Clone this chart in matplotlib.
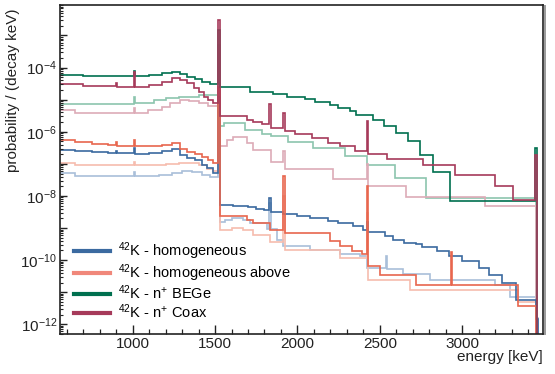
import numpy as np
import matplotlib
matplotlib.use("Agg")
import matplotlib.pyplot as plt
from matplotlib.lines import Line2D
from matplotlib.ticker import LogLocator, FuncFormatter, MultipleLocator, NullFormatter

plt.rcParams['font.family'] = ['Liberation Sans', 'DejaVu Sans']
plt.rcParams['mathtext.fontset'] = 'custom'
plt.rcParams['mathtext.rm'] = 'Liberation Sans'
plt.rcParams['mathtext.it'] = 'Liberation Sans:italic'
plt.rcParams['mathtext.default'] = 'regular'

XMAX = 3500

# left bin edges (keV) and contents (probability / (decay keV))
hom_e = [560, 650, 750, 850, 896, 904, 1008, 1016, 1100, 1180, 1240, 1290, 1330, 1380,
         1420, 1450, 1490, 1520, 1530, 1610, 1700, 1750, 1800, 1830, 1838, 1914, 1995,
         2076, 2187, 2248, 2339, 2400, 2420, 2428, 2530, 2582, 2646, 2722, 2759, 2848,
         2921, 3001, 3103, 3164, 3245, 3325, 3450, 3460]
hom_v = [2.8e-7, 2.5e-7, 2.3e-7, 2.2e-7, 2.6e-7, 2.15e-7, 3.2e-7, 2.1e-7, 2.25e-7, 2.5e-7,
         2.9e-7, 1.85e-7, 1.5e-7, 1.3e-7, 9.5e-8, 7.2e-8, 5.3e-8, 1.2e-5, 5.4e-9, 5.0e-9,
         4.6e-9, 3.9e-9, 3.6e-9, 8.7e-9, 3.1e-9, 2.8e-9, 2.4e-9, 2.05e-9, 1.6e-9, 1.45e-9,
         1.12e-9, 8.4e-10, 1.5e-9, 7.5e-10, 5.5e-10, 4.3e-10, 3.5e-10, 3.2e-10, 2.6e-10,
         1.87e-10, 1.35e-10, 9.1e-11, 5.6e-11, 3.5e-11, 1.9e-11, 5.7e-12, 1.5e-12, 1e-16]

hab_e = [560, 650, 750, 850, 896, 904, 1008, 1016, 1100, 1180, 1240, 1290, 1330, 1380,
         1420, 1460, 1490, 1520, 1530, 1692, 1732, 1834, 1914, 1922, 2198, 2258, 2329,
         2390, 2420, 2428, 2501, 2723, 2932, 2940, 3338, 3450]
hab_v = [5.5e-7, 4.8e-7, 4.3e-7, 4.0e-7, 4.8e-7, 3.7e-7, 5.6e-7, 3.6e-7, 3.7e-7, 4.0e-7,
         4.6e-7, 3.0e-7, 2.4e-7, 2.0e-7, 1.6e-7, 1.3e-7, 1.05e-7, 2.5e-5, 2.3e-9, 1.73e-9,
         1.45e-9, 8.9e-10, 4.3e-8, 6.9e-10, 4.0e-10, 2.7e-10, 1.87e-10, 1.6e-10, 2.0e-8,
         6.6e-11, 3.5e-11, 1.7e-11, 1.8e-10, 1.7e-11, 3.6e-12, 1e-16]

bege_e = [560, 700, 1008, 1016, 1100, 1180, 1240, 1290, 1330, 1380, 1420, 1470, 1520, 1530,
          1712, 1851, 1937, 2046, 2107, 2198, 2246, 2319, 2355, 2456, 2525, 2598, 2669,
          2743, 2824, 2925, 3442, 3452]
bege_v = [6.0e-5, 5.4e-5, 7.8e-5, 5.4e-5, 6.0e-5, 6.8e-5, 7.5e-5, 6.3e-5, 5.0e-5, 4.3e-5,
          3.6e-5, 3.0e-5, 1.5e-3, 2.4e-5, 1.78e-5, 1.47e-5, 1.24e-5, 1.02e-5, 8.4e-6, 6.6e-6,
          5.6e-6, 4.4e-6, 3.45e-6, 2.3e-6, 1.5e-6, 9.3e-7, 5.1e-7, 1.95e-7, 5.6e-8, 6.8e-9,
          3.2e-7, 1e-16]

coax_e = [560, 700, 896, 904, 1008, 1016, 1100, 1180, 1240, 1290, 1330, 1370, 1400, 1430,
          1460, 1490, 1520, 1530, 1692, 1732, 1783, 1830, 1838, 1914, 1922, 1985, 2086,
          2187, 2258, 2349, 2420, 2428, 2545, 2764, 2956, 3199, 3310, 3442, 3452]
coax_v = [3.1e-5, 2.6e-5, 3.3e-5, 2.5e-5, 7.5e-5, 2.5e-5, 2.8e-5, 3.6e-5, 4.6e-5, 4.2e-5,
          3.2e-5, 2.3e-5, 1.7e-5, 1.25e-5, 1.0e-5, 8e-6, 3.0e-3, 3.1e-6, 2.3e-6, 2.0e-6,
          1.8e-6, 7.1e-6, 1.33e-6, 3.8e-6, 1.04e-6, 8.3e-7, 6.5e-7, 4.6e-7, 3.6e-7, 2.6e-7,
          2.2e-6, 2.0e-7, 1.44e-7, 8.9e-8, 4.6e-8, 2.1e-8, 7.6e-9, 1.9e-7, 1e-16]

# lighter companions (no legend entry)
bege2_e = [560, 1008, 1016, 1128, 1200, 1280, 1400, 1520, 1530, 1552, 1681, 1783, 1837,
           1944, 2096, 2288, 2420, 2592, 2780, 3450]
bege2_v = [7.1e-6, 1.24e-5, 8.1e-6, 9.5e-6, 1.1e-5, 1.24e-5, 1.36e-5, 5e-4, 1.5e-6, 1.9e-6,
           1.17e-6, 8.3e-7, 7.2e-7, 4.8e-7, 3.2e-7, 1.8e-7, 9.5e-8, 3.6e-8, 8.7e-9, 1e-16]

coax2_e = [560, 650, 1008, 1016, 1094, 1176, 1226, 1287, 1340, 1400, 1460, 1520, 1530, 1570,
           1611, 1692, 1732, 1837, 1914, 1922, 2217, 2420, 2428, 2661, 3138, 3450]
coax2_v = [4.8e-6, 3.8e-6, 5.6e-6, 3.8e-6, 4.6e-6, 6.0e-6, 8.1e-6, 1.0e-5, 8.8e-6, 8.0e-6,
           6.5e-6, 4e-4, 3.7e-7, 5.4e-7, 6.9e-7, 4.6e-7, 2.8e-7, 1.12e-7, 2.6e-7, 6.9e-8,
           3.4e-8, 1.0e-7, 2.0e-8, 9.3e-9, 4.8e-9, 1e-16]

hom2_e = [560, 650, 1008, 1016, 1160, 1240, 1300, 1360, 1420, 1470, 1520, 1530, 1560, 1601,
          1672, 1712, 1813, 1830, 1838, 1874, 1914, 2076, 2258, 2380, 2420, 2537, 2545,
          2640, 2807, 3199, 3290, 3450, 3462]
hom2_v = [5.2e-8, 4.2e-8, 5.5e-8, 4.1e-8, 4.4e-8, 5.2e-8, 5.9e-8, 5.4e-8, 4.5e-8, 3.9e-8,
          4e-6, 1.5e-9, 1.8e-9, 2.05e-9, 1.8e-9, 1.45e-9, 9.5e-10, 6e-9, 9.3e-10, 4.3e-10,
          2.7e-10, 2.1e-10, 1.5e-10, 1.3e-10, 5.6e-11, 1.3e-10, 5.2e-11, 3.6e-11, 2.4e-11,
          1.7e-11, 7.2e-12, 1.6e-12, 1e-16]

hab2_e = [560, 650, 1008, 1016, 1200, 1280, 1400, 1450, 1490, 1520, 1530, 1601, 1672, 1732,
          1834, 1914, 1922, 2258, 2420, 2428, 2686, 3339, 3450]
hab2_v = [1.05e-7, 8.9e-8, 1.12e-7, 8.9e-8, 1.0e-7, 1.1e-7, 9.0e-8, 7.0e-8, 6.0e-8, 8e-6,
          8.9e-10, 1.0e-9, 8.9e-10, 6.2e-10, 3.8e-10, 1e-8, 2.0e-10, 1.15e-10, 3e-9, 2.4e-11,
          1.18e-11, 5.0e-12, 1e-16]

labels = [r'$^{42}$K - homogeneous', r'$^{42}$K - homogeneous above',
          r'$^{42}$K - n$^{+}$ BEGe', r'$^{42}$K - n$^{+}$ Coax']
legend_colors = ['#3b6aa0', '#f0877a', '#00704f', '#a63a5a']

fig = plt.figure(figsize=(5.55, 3.74), dpi=100)
ax = fig.add_axes([0.108, 0.107, 0.870, 0.880])

light = [(hom2_e, hom2_v, '#a9bfd9'), (hab2_e, hab2_v, '#f6bcae'),
         (bege2_e, bege2_v, '#8cc5ae'), (coax2_e, coax2_v, '#ddabb7')]
dark = [(hom_e, hom_v, '#3b6aa0'), (hab_e, hab_v, '#e8664e'),
        (bege_e, bege_v, '#00704f'), (coax_e, coax_v, '#a63a5a')]

for e, v, c in light + dark:
    ax.stairs(v, e + [XMAX], baseline=None, color=c, lw=1.2)

ax.set_yscale('log')
ax.set_xlim(558, 3490)
ax.set_ylim(5e-13, 9e-3)

ax.xaxis.set_major_locator(MultipleLocator(500))
ax.xaxis.set_minor_locator(MultipleLocator(100))
ax.yaxis.set_major_locator(LogLocator(base=10, numticks=20))
ax.yaxis.set_minor_locator(LogLocator(base=10, subs=np.arange(2, 10), numticks=20))
ax.yaxis.set_minor_formatter(NullFormatter())


def ylab(val, pos):
    ex = int(round(np.log10(val)))
    return r'$10^{%d}$' % ex if ex % 2 == 0 else ''


ax.yaxis.set_major_formatter(FuncFormatter(ylab))

ax.tick_params(which='both', direction='in', top=False, right=False, labelsize=11,
               colors='#222222')
ax.tick_params(axis='x', which='major', length=6.5, width=1.0, pad=2)
ax.tick_params(axis='x', which='minor', length=3.5, width=0.9)
ax.tick_params(axis='y', which='major', length=5, width=1.0, pad=2)
ax.tick_params(axis='y', which='minor', length=2.5, width=0.8)
for s in ax.spines.values():
    s.set_linewidth(1.2)
    s.set_color('#222222')

# grey shadow next to the right frame edge
fig.add_artist(Line2D([0.982, 0.982], [0.107, 0.985], color='#9a9a9a', lw=1.4))

ax.set_ylabel('probability / (decay keV)', fontsize=11, loc='top', color='#222222')
ax.set_xlabel('energy [keV]', fontsize=11, loc='right', color='#222222')
ax.yaxis.set_label_coords(-0.083, 0.99)
ax.xaxis.set_label_coords(1.0, -0.05)

handles = [Line2D([], [], color=c, lw=3) for c in legend_colors]
ax.legend(handles, labels, loc='lower left', bbox_to_anchor=(0.029, 0.04),
          frameon=False, fontsize=10.5, handlelength=2.5, handletextpad=0.5,
          labelspacing=0.0, borderaxespad=0, borderpad=0)

fig.savefig('out.png', dpi=100)
